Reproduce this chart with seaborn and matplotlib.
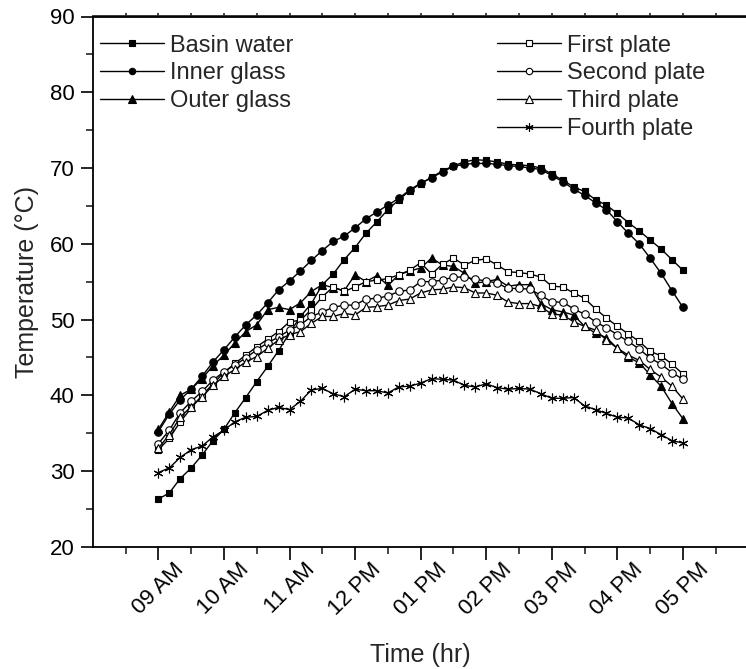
import numpy as np
import pandas as pd
import matplotlib
matplotlib.use("Agg")
import matplotlib.pyplot as plt
import seaborn as sns
from matplotlib.ticker import MultipleLocator, FixedLocator

# ---- data (10-minute readings, 09:00 to 17:00) ----
hours = [9 + i / 6 for i in range(49)]
tick_hours = [9, 10, 11, 12, 13, 14, 15, 16, 17]
tick_labels = ["09 AM", "10 AM", "11 AM", "12 PM", "01 PM", "02 PM", "03 PM", "04 PM", "05 PM"]

basin_water = [26.3, 27.1, 29.0, 30.4, 32.1, 34.0, 35.5, 37.7, 39.7, 41.8,
               43.8, 45.9, 48.2, 50.4, 52.1, 54.6, 56.0, 57.9, 59.5, 61.4,
               62.9, 64.5, 65.8, 67.0, 67.9, 68.8, 69.6, 70.3, 70.8, 71.1,
               71.0, 70.8, 70.5, 70.4, 70.3, 70.0, 69.2, 68.4, 67.5, 66.9,
               65.8, 65.1, 64.0, 62.8, 61.7, 60.5, 59.3, 57.9, 56.5]
inner_glass = [35.2, 37.5, 39.4, 40.8, 42.5, 44.4, 46.0, 47.7, 49.3, 50.6,
               52.2, 53.9, 55.1, 56.4, 57.8, 59.1, 60.3, 61.0, 62.1, 63.3,
               64.2, 65.1, 66.0, 67.1, 68.0, 68.7, 69.5, 70.2, 70.5, 70.6,
               70.6, 70.5, 70.3, 70.2, 70.0, 69.8, 69.0, 68.2, 67.2, 66.4,
               65.4, 64.5, 62.9, 61.4, 60.0, 58.1, 56.1, 53.8, 51.6]
outer_glass = [35.5, 37.8, 40.0, 40.8, 42.2, 43.9, 45.3, 46.9, 48.4, 49.3,
               51.3, 51.6, 51.3, 52.2, 53.7, 54.6, 54.2, 53.8, 55.9, 55.0,
               55.8, 54.5, 55.9, 56.4, 56.8, 58.1, 57.2, 57.0, 56.1, 54.8,
               55.0, 55.3, 54.4, 54.6, 54.6, 52.1, 51.3, 51.0, 50.6, 49.1,
               48.2, 47.6, 46.2, 45.0, 44.3, 42.7, 41.2, 38.9, 36.9]
first_plate = [32.8, 34.3, 36.5, 38.3, 40.0, 41.5, 43.0, 44.2, 45.3, 46.4,
               47.4, 48.4, 49.7, 49.9, 51.3, 53.0, 54.3, 53.7, 54.3, 55.0,
               55.2, 55.4, 55.9, 56.5, 57.5, 56.0, 57.3, 58.1, 57.2, 57.8,
               58.0, 57.2, 56.3, 56.2, 56.0, 55.6, 54.4, 54.3, 53.5, 52.8,
               51.4, 50.2, 49.1, 48.1, 47.1, 45.8, 45.2, 44.1, 42.8]
second_plate = [33.6, 35.4, 37.7, 39.2, 40.5, 42.0, 43.1, 44.0, 44.9, 46.0,
                46.9, 47.7, 48.6, 49.3, 50.4, 51.0, 51.6, 51.9, 51.9, 52.7,
                52.8, 53.1, 53.7, 53.9, 55.0, 55.0, 55.2, 55.6, 55.6, 55.3,
                55.1, 54.8, 54.1, 54.1, 54.0, 53.2, 52.3, 52.3, 51.4, 50.7,
                49.7, 48.9, 48.0, 47.1, 46.1, 44.9, 44.1, 43.0, 42.1]
third_plate = [33.0, 34.8, 37.1, 38.5, 39.8, 41.3, 42.5, 43.4, 44.4, 45.1,
               46.2, 47.3, 48.0, 48.4, 49.5, 50.4, 50.4, 50.8, 50.6, 51.6,
               51.7, 51.9, 52.5, 52.7, 53.5, 53.9, 54.0, 54.3, 54.2, 53.5,
               53.5, 53.2, 52.3, 52.1, 52.1, 51.7, 50.7, 50.6, 49.7, 49.1,
               48.6, 47.3, 46.2, 45.3, 44.6, 43.4, 42.4, 41.2, 39.5]
fourth_plate = [29.8, 30.4, 31.8, 32.8, 33.3, 34.5, 35.4, 36.5, 37.1, 37.2,
                38.0, 38.4, 38.1, 39.2, 40.7, 40.9, 40.2, 39.8, 40.8, 40.6,
                40.6, 40.3, 41.1, 41.2, 41.6, 42.2, 42.1, 42.0, 41.3, 41.1,
                41.5, 41.0, 40.8, 40.9, 40.8, 40.2, 39.6, 39.6, 39.7, 38.6,
                38.1, 37.6, 37.1, 37.0, 36.1, 35.6, 34.8, 34.0, 33.7]

series_names = ["Basin water", "Inner glass", "Outer glass",
                "First plate", "Second plate", "Third plate", "Fourth plate"]
series_values = [basin_water, inner_glass, outer_glass,
                 first_plate, second_plate, third_plate, fourth_plate]

# ---- styling ----
sns.set_theme(style="ticks")
plt.rcParams["font.family"] = ["Liberation Sans", "DejaVu Sans"]

styles = {
    "Basin water": dict(marker="s", mfc="black", ms=4.6),
    "Inner glass": dict(marker="o", mfc="black", ms=5.4),
    "Outer glass": dict(marker="^", mfc="black", ms=6.0),
    "First plate": dict(marker="s", mfc="white", ms=4.6),
    "Second plate": dict(marker="o", mfc="white", ms=5.4),
    "Third plate": dict(marker="^", mfc="white", ms=6.0),
    "Fourth plate": dict(marker=(6, 2, 0), mfc="black", ms=7.0),
}

fig = plt.figure(figsize=(7.46, 6.69), dpi=100)
ax = fig.add_axes([92.8 / 746, 1 - 546.75 / 669, (748.5 - 92.8) / 746, (546.75 - 16.5) / 669])

df = pd.DataFrame({"hour": hours})
for name, vals in zip(series_names, series_values):
    df[name] = vals

handles = {}
for name in series_names:
    st = styles[name]
    sns.lineplot(data=df, x="hour", y=name, ax=ax, color="black", linewidth=1.0,
                 marker=st["marker"], markersize=st["ms"],
                 markerfacecolor=st["mfc"], markeredgecolor="black",
                 markeredgewidth=0.8, label=name, legend=False)
    handles[name] = ax.lines[-1]

ax.set_xlim(8, 18)
ax.set_ylim(20, 90)
ax.set_xticks(tick_hours)
ax.set_xticklabels(tick_labels, rotation=45, ha="center", va="top",
                   rotation_mode="default", fontsize=16)
ax.xaxis.set_minor_locator(FixedLocator([8.5 + k for k in range(10)]))
ax.yaxis.set_major_locator(MultipleLocator(10))
ax.yaxis.set_minor_locator(MultipleLocator(5))
for lbl in ax.get_yticklabels():
    lbl.set_fontsize(16)

ax.tick_params(axis="both", which="major", direction="out", length=9, width=1.2,
               colors="black")
ax.tick_params(axis="both", which="minor", direction="out", length=5, width=1.2)
ax.tick_params(axis="x", which="major", pad=0)
ax.tick_params(axis="y", which="major", pad=4)
for side in ["top", "bottom", "left", "right"]:
    ax.spines[side].set_visible(True)
    ax.spines[side].set_linewidth(1.3)
    ax.spines[side].set_color("black")

# small ticks on the top axis
top = ax.secondary_xaxis("top")
top.set_xticks([8.5 + k * 0.5 for k in range(19)])
top.tick_params(axis="x", which="both", direction="out", length=2.5, width=1.2,
                labeltop=False)
top.spines["top"].set_linewidth(1.3)

ax.set_xlabel("Time (hr)", fontsize=18, labelpad=17)
ax.set_ylabel("Temperature (\u00b0C)", fontsize=18, labelpad=8)

leg_kw = dict(frameon=False, fontsize=17, handlelength=2.7, handletextpad=0.25,
              labelspacing=0.25, borderpad=0, borderaxespad=0, markerscale=0.85,
              loc="upper left")
leg1 = ax.legend([handles[n] for n in series_names[:3]], series_names[:3],
                 bbox_to_anchor=(0.011, 0.966), **leg_kw)
ax.add_artist(leg1)
ax.legend([handles[n] for n in series_names[3:]], series_names[3:],
          bbox_to_anchor=(0.617, 0.966), **leg_kw)

fig.savefig("out.png", dpi=100)
